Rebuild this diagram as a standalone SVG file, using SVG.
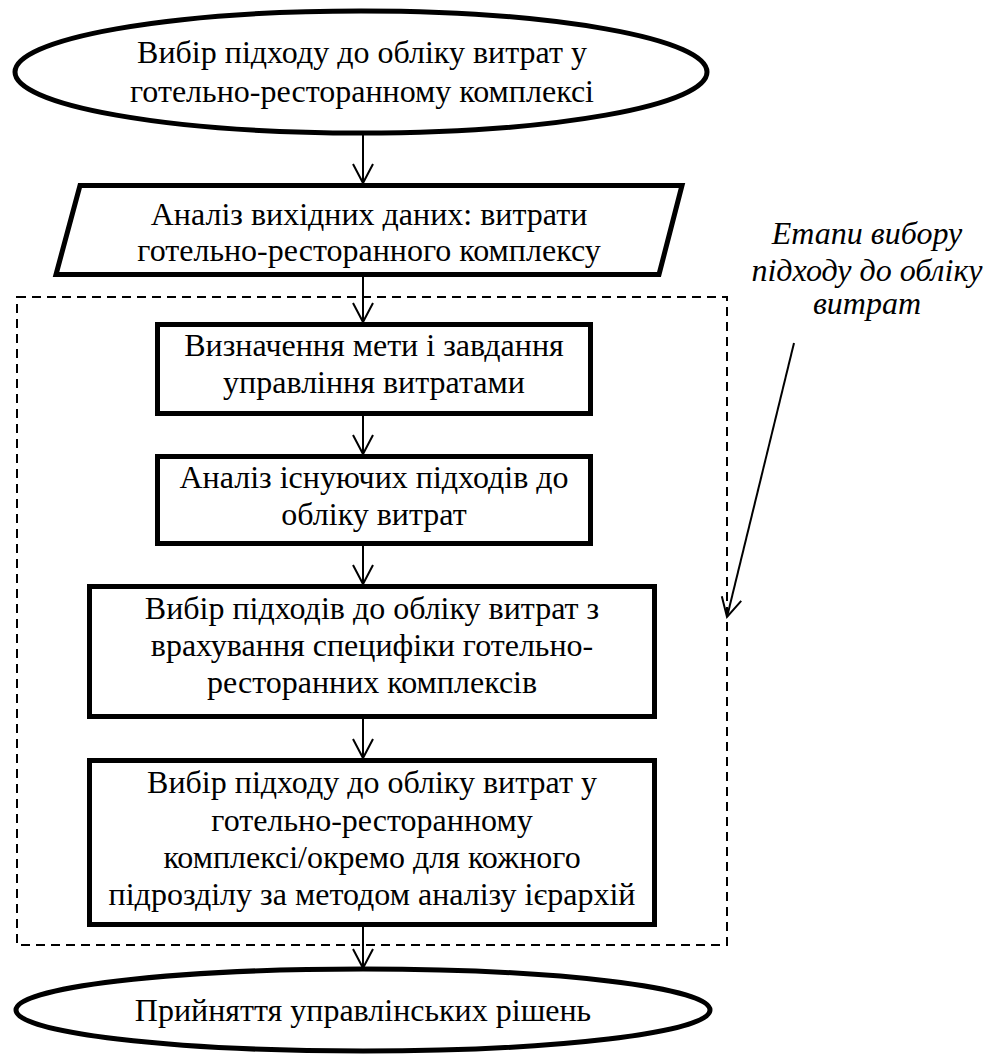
<svg xmlns="http://www.w3.org/2000/svg" width="1000" height="1059" viewBox="0 0 1000 1059">
  <style>
    .shape { fill: #ffffff; stroke: #000000; stroke-width: 5; }
    .frame { fill: none; stroke: #000000; stroke-width: 2; stroke-dasharray: 9 6; }
    .link { fill: none; stroke: #000000; stroke-width: 2; }
    text { font-size: 32px; fill: #000000; text-anchor: middle; }
  </style>
  <defs>
    <marker id="open-arrow" viewBox="0 0 24 24" refX="21" refY="12" markerWidth="24" markerHeight="24" markerUnits="userSpaceOnUse" orient="auto">
      <path d="M2,2 L21,12 L2,22" fill="none" stroke="#000000" stroke-width="2"/>
    </marker>
  </defs>

  <rect width="1000" height="1059" fill="#ffffff"/>

  <!-- dashed frame around the selection stages -->
  <rect id="stages-frame" class="frame" x="17" y="297" width="710" height="648"/>

  <!-- connectors -->
  <g id="connectors">
    <line class="link" x1="363" y1="135" x2="363" y2="183" marker-end="url(#open-arrow)"/>
    <line class="link" x1="363" y1="277" x2="363" y2="322" marker-end="url(#open-arrow)"/>
    <line class="link" x1="363" y1="416" x2="363" y2="454" marker-end="url(#open-arrow)"/>
    <line class="link" x1="363" y1="546" x2="363" y2="584" marker-end="url(#open-arrow)"/>
    <line class="link" x1="363" y1="719" x2="363" y2="758" marker-end="url(#open-arrow)"/>
    <line class="link" x1="363" y1="927" x2="363" y2="968" marker-end="url(#open-arrow)"/>
    <line class="link" x1="794" y1="343" x2="727" y2="617" marker-end="url(#open-arrow)"/>
  </g>

  <!-- start -->
  <g id="start">
    <ellipse class="shape" cx="361" cy="72" rx="346" ry="61"/>
    <text x="362" y="63" font-family="Liberation Serif">Вибір підходу до обліку витрат у</text>
    <text x="362" y="102" font-family="Liberation Serif">готельно-ресторанному комплексі</text>
  </g>

  <!-- input data -->
  <g id="input-data">
    <polygon class="shape" points="80,185.5 682,185.5 659,274.5 56,274.5"/>
    <text x="369" y="225" font-family="Liberation Serif">Аналіз вихідних даних: витрати</text>
    <text x="369" y="261" font-family="Liberation Serif">готельно-ресторанного комплексу</text>
  </g>

  <!-- step 1 -->
  <g id="step-goals">
    <rect class="shape" x="157.5" y="324.5" width="433" height="89"/>
    <text x="374" y="356" font-family="Liberation Serif">Визначення мети і завдання</text>
    <text x="374" y="393" font-family="Liberation Serif">управління витратами</text>
  </g>

  <!-- step 2 -->
  <g id="step-analysis">
    <rect class="shape" x="157.5" y="456.5" width="433" height="87"/>
    <text x="374" y="488" font-family="Liberation Serif">Аналіз існуючих підходів до</text>
    <text x="374" y="525" font-family="Liberation Serif">обліку витрат</text>
  </g>

  <!-- step 3 -->
  <g id="step-selection">
    <rect class="shape" x="89.5" y="586.5" width="565" height="130"/>
    <text x="372" y="619" font-family="Liberation Serif">Вибір підходів до обліку витрат з</text>
    <text x="372" y="656" font-family="Liberation Serif">врахування специфіки готельно-</text>
    <text x="372" y="693" font-family="Liberation Serif">ресторанних комплексів</text>
  </g>

  <!-- step 4 -->
  <g id="step-ahp">
    <rect class="shape" x="89.5" y="760.5" width="565" height="164"/>
    <text x="372" y="793" font-family="Liberation Serif">Вибір підходу до обліку витрат у</text>
    <text x="372" y="831" font-family="Liberation Serif">готельно-ресторанному</text>
    <text x="372" y="868" font-family="Liberation Serif">комплексі/окремо для кожного</text>
    <text x="372" y="905" font-family="Liberation Serif">підрозділу за методом аналізу ієрархій</text>
  </g>

  <!-- end -->
  <g id="end">
    <ellipse class="shape" cx="363" cy="1010" rx="347" ry="41"/>
    <text x="363" y="1021" font-family="Liberation Serif">Прийняття управлінських рішень</text>
  </g>

  <!-- side note -->
  <g id="note">
    <text x="867" y="244" font-family="Liberation Serif" font-style="italic">Етапи вибору</text>
    <text x="867" y="281" font-family="Liberation Serif" font-style="italic">підходу до обліку</text>
    <text x="867" y="314" font-family="Liberation Serif" font-style="italic">витрат</text>
  </g>
</svg>
